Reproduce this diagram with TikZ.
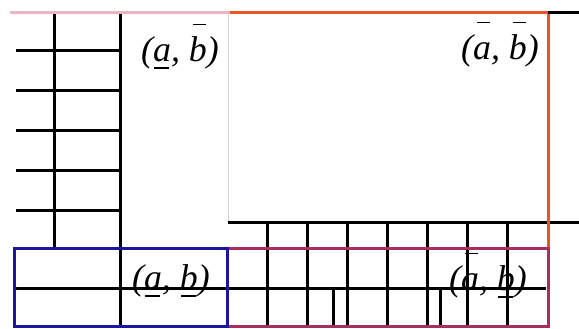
\documentclass[tikz,border=0pt]{standalone}
\usepackage{fontspec}
\setmainfont{Liberation Serif}
\usepackage{tikz}
\definecolor{pinkline}{RGB}{238,180,195}
\definecolor{orangeline}{RGB}{235,85,35}
\definecolor{blueline}{RGB}{30,20,160}
\definecolor{maroonline}{RGB}{170,45,95}
\newcommand{\obar}[1]{\leavevmode\rlap{\kern4pt\raisebox{36pt}{\vrule height 1.6pt depth 0pt width 13pt}}#1}
\newcommand{\ubar}[1]{\leavevmode\rlap{\kern1pt\raisebox{-8pt}{\vrule height 1.6pt depth 0pt width 15pt}}#1}
\tikzset{
  grid line/.style={line width=3bp, black},
  frame line/.style={line width=3bp},
  quad label/.style={font=\fontsize{36}{40}\selectfont\itshape, inner sep=0pt, anchor=base},
}
\begin{document}
\begin{tikzpicture}[x=1bp, y=-1bp]
  \useasboundingbox (0,0) rectangle (579,328);
  % left grid
  \foreach \y in {50,90,...,210}
    \draw[grid line] (16,\y) -- (120,\y);
  \draw[grid line] (54,12) -- (54,248);
  \draw[grid line] (120,12) -- (120,328);
  % inner white region
  \draw[gray!35, line width=1bp] (228,14) -- (228,222);
  \draw[grid line] (228,222) -- (579,222);
  % lower grid
  \foreach \x in {267,307,...,507}
    \draw[grid line] (\x,222) -- (\x,328);
  \draw[grid line] (16,288) -- (546,288);
  \foreach \x in {333,440}
    \draw[grid line] (\x,288) -- (\x,328);
  % frames
  \draw[frame line, pinkline] (10,12) -- (230,12);
  \draw[frame line, orangeline] (230,12) -- (548,12) -- (548,248);
  \draw[grid line] (548,12) -- (579,12);
  \draw[frame line, maroonline] (227,248) rectangle (548,326);
  \draw[frame line, blueline] (14,248) rectangle (227,326);
  % labels
  \node[quad label] (lab-ul) at (180,61) {(\ubar{a}, \obar{b})};
  \node[quad label] (lab-ur) at (500,59) {(\obar{a}, \obar{b})};
  \node[quad label] (lab-ll) at (171,289) {(\ubar{a}, \ubar{b})};
  \node[quad label] (lab-lr) at (488,290) {(\obar{a}, \ubar{b})};
\end{tikzpicture}
\end{document}
